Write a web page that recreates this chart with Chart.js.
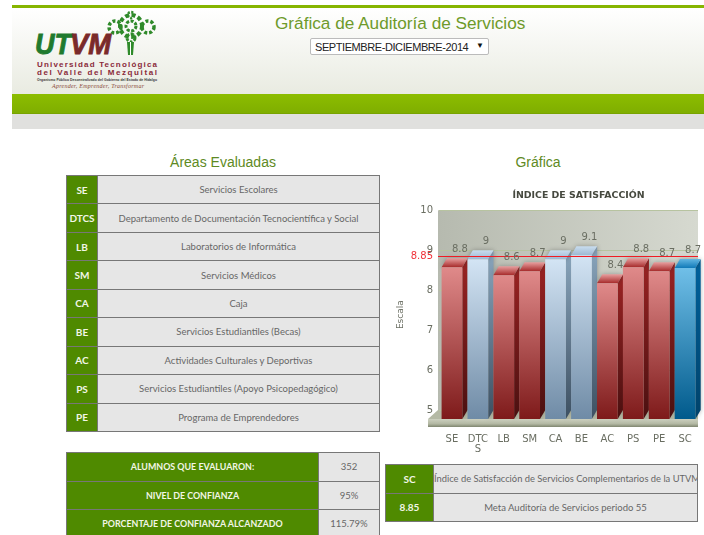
<!DOCTYPE html>
<html lang="es">
<head>
<meta charset="utf-8">
<title>Gráfica de Auditoría de Servicios</title>
<script src="https://cdn.jsdelivr.net/npm/chart.js@4"></script>
<style>
html,body{margin:0;padding:0;width:704px;height:535px;overflow:hidden;background:#fff;font-family:"Liberation Sans",Arial,sans-serif}
.abs{position:absolute}
#topline{left:12px;right:0;top:5px;height:3px;background:#86b500}
#head{left:12px;right:0;top:8px;height:86px;background:linear-gradient(#ffffff,#e9ebe1)}
#band{left:12px;right:0;top:94px;height:19px;background:linear-gradient(#8cbd00,#7fae00);border-bottom:1px solid #77a300}
#gray{left:12px;right:0;top:114px;height:15px;background:#e0e0de}
h1{margin:0;left:275px;top:13px;width:249px;text-align:center;font-weight:normal;font-size:17.2px;line-height:20px;color:#6e9a2a;white-space:nowrap}
select{left:310px;top:38px;width:179px;height:17px;font:11px "Liberation Sans",Arial,sans-serif;letter-spacing:-.42px;color:#222;background:#fff;border:1px solid #bbb;border-radius:2px;padding:0 0 0 4px;appearance:none;-webkit-appearance:none}
#arrow{left:476px;top:41px;font-size:8px;line-height:10px;color:#111}
h2{margin:0;top:153px;font-weight:normal;font-size:14px;line-height:18px;color:#5e8a24;text-align:center;white-space:nowrap}
table{position:absolute;border-collapse:collapse;table-layout:fixed;font-family:"Lato",sans-serif;font-size:9.5px}
td{border:1px solid #777;background:#e6e6e6;color:#666;text-align:center;padding:0;overflow:hidden;white-space:nowrap}
td.k{background:#4f8a00;color:#f2f6e6;font-weight:bold;font-size:10px}
#stats td.k{font-size:8.9px}
#notes tr:first-child td:last-child{font-size:9.35px}
#wrap{left:380px;top:180px;width:396px;height:280px}
</style>
</head>
<body>
<div class="abs" id="topline"></div>
<div class="abs" id="head"></div>
<div class="abs" id="band"></div>
<div class="abs" id="gray"></div>

<svg class="abs" style="left:30px;top:8px" width="135" height="86" viewBox="30 8 135 86">
  <g fill="none" stroke="#2f8a2a">
    <circle cx="131" cy="26" r="5" stroke-width="3" stroke-dasharray="3 1.5"/>
    <circle cx="131" cy="26" r="11" stroke-width="4" stroke-dasharray="4 2.5"/>
    <circle cx="115" cy="27" r="6" stroke-width="3.5" stroke-dasharray="3 2"/>
    <circle cx="148" cy="27" r="6" stroke-width="3.5" stroke-dasharray="3 2"/>
    <circle cx="131" cy="15" r="3" stroke-width="2.5" stroke-dasharray="2 1.5"/>
    <circle cx="131" cy="38" r="4" stroke-width="3" stroke-dasharray="3 1.5"/>
  </g>
  <path d="M127 42h7l-1 13h-5z" fill="#2f8a2a"/>
  <path d="M130.5 42v13" stroke="#fff" stroke-width="1"/>
  <text x="35" y="54" font-family="Liberation Sans" font-weight="bold" font-style="italic" font-size="30" fill="#1f7a2e" stroke="#1f7a2e" stroke-width=".9" textLength="36" lengthAdjust="spacingAndGlyphs">UT</text>
  <text x="70" y="54" font-family="Liberation Sans" font-weight="bold" font-style="italic" font-size="30" fill="#7a2a2a" stroke="#7a2a2a" stroke-width=".9" textLength="41" lengthAdjust="spacingAndGlyphs">VM</text>
  <g font-family="Liberation Sans" font-weight="bold" font-size="8" fill="#8a2a3a">
    <text x="37" y="66.5" textLength="120">Universidad Tecnológica</text>
    <text x="37" y="74.5" textLength="120">del Valle del Mezquital</text>
  </g>
  <text x="37" y="80.5" font-family="Liberation Sans" font-weight="bold" font-size="3.4" fill="#333" textLength="120">Organismo Público Descentralizado del Gobierno del Estado de Hidalgo</text>
  <text x="52" y="87.5" font-family="Liberation Serif" font-style="italic" font-size="6" fill="#8a4a3a" textLength="92">Aprender, Emprender, Transformar</text>
</svg>

<h1 class="abs">Gráfica de Auditoría de Servicios</h1>
<select class="abs"><option>SEPTIEMBRE-DICIEMBRE-2014</option></select>
<div class="abs" id="arrow">▼</div>
<h2 class="abs" style="left:123px;width:200px">Áreas Evaluadas</h2>
<h2 class="abs" style="left:438px;width:200px">Gráfica</h2>

<table id="areas" style="left:66px;top:175px;width:314px"></table>
<table id="stats" style="left:66px;top:452px;width:314px"></table>
<table id="notes" style="left:385px;top:464px;width:313px"></table>

<div class="abs" id="wrap"><canvas id="c" width="396" height="280"></canvas></div>

<script>
const categories = [["SE"],["DTC","S"],["LB"],["SM"],["CA"],["BE"],["AC"],["PS"],["PE"],["SC"]];
const satisfaction = [8.8, 9, 8.6, 8.7, 9, 9.1, 8.4, 8.8, 8.7, 8.78];
const valueLabels = ["8.8","9","8.6","8.7","9","9.1","8.4","8.8","8.7","8.7"];
const barGroups = ["red","blue","red","red","blue","blue","red","red","red","sc"];
const goal = 8.85;
const axisTicks = [5, 6, 7, 8, goal, 9, 10];

const areaCodes = ["SE","DTCS","LB","SM","CA","BE","AC","PS","PE"];
const areaNames = ["Servicios Escolares","Departamento de Documentación Tecnocientífica y Social","Laboratorios de Informática","Servicios Médicos","Caja","Servicios Estudiantiles (Becas)","Actividades Culturales y Deportivas","Servicios Estudiantiles (Apoyo Psicopedagógico)","Programa de Emprendedores"];
const statNames = ["ALUMNOS QUE EVALUARON:","NIVEL DE CONFIANZA","PORCENTAJE DE CONFIANZA ALCANZADO"];
const statValues = ["352","95%","115.79%"];
const noteCodes = ["SC","8.85"];
const noteNames = ["Índice de Satisfacción de Servicios Complementarios de la UTVM","Meta Auditoría de Servicios periodo 55"];

function fill(id, keys, vals, kw, rowH){
  const t = document.getElementById(id);
  t.innerHTML = '<colgroup><col style="width:'+kw+'px"><col></colgroup>' + keys.map((k,i)=>
    '<tr style="height:'+rowH+'px"><td class="k">'+k+'</td><td>'+vals[i]+'</td></tr>').join('');
}
fill("areas", areaCodes, areaNames, 31, 28.44);
fill("stats", statNames, statValues, 252, 28.5);
fill("notes", noteCodes, noteNames, 48, 28.5);

const palette = {
  red:  {front:["#e08a8a","#7e1a1a"], side:["#962222","#4a1010"], top:["#e9a0a0","#a62a2a"]},
  blue: {front:["#d3e4f4","#6f8ba6"], side:["#86a1b8","#3d5062"], top:["#c9ddef","#9db8d2"]},
  sc:   {front:["#70bfe8","#005a8c"], side:["#00609a","#00426a"], top:["#62b6e2","#1079b8"]}
};

function vGrad(ctx, y0, y1, cols){
  if (!Number.isFinite(y0) || !Number.isFinite(y1)) return cols[0];
  const g = ctx.createLinearGradient(0, y0, 0, y1);
  g.addColorStop(0, cols[0]); g.addColorStop(1, cols[1]);
  return g;
}

const stage = {
  id: "stage",
  afterLayout(chart){
    const t = chart.titleBlock;
    const shift = 32;
    t.left += shift; t.right += shift;
  },
  beforeDraw(chart){
    const {ctx, chartArea:a, scales} = chart;
    const back = scales.wall.getPixelForValue(5), front = scales.y.getPixelForValue(5);
    const left = a.left - 1, lipLeft = left - 10;
    ctx.save();
    const w = ctx.createLinearGradient(left, 0, a.right, 0);
    w.addColorStop(0, "#b6baaf"); w.addColorStop(1, "#d6d9d0");
    ctx.fillStyle = w;
    ctx.fillRect(left, a.top, a.right - left, back - a.top);
    ctx.fillStyle = "#b4b9a4";
    ctx.beginPath();
    ctx.moveTo(left, back); ctx.lineTo(a.right, back);
    ctx.lineTo(a.right, front); ctx.lineTo(lipLeft, front); ctx.closePath(); ctx.fill();
    const lip = ctx.createLinearGradient(0, front, 0, front + 8);
    lip.addColorStop(0, "#ccd0bf"); lip.addColorStop(.6, "#b3b8a3"); lip.addColorStop(1, "#7f866f");
    ctx.fillStyle = lip;
    ctx.fillRect(lipLeft, front, a.right - lipLeft, 8);
    ctx.restore();
  },
  beforeDatasetsDraw(chart){
    const {ctx, scales} = chart;
    const base = scales.y.getPixelForValue(5);
    const depth = base - scales.wall.getPixelForValue(5);
    const dx = 5.3;
    ctx.save();
    chart.getDatasetMeta(0).data.forEach((b,i)=>{
      const p = palette[barGroups[i]];
      const l = b.x - b.width/2, r = b.x + b.width/2;
      ctx.shadowColor = "rgba(40,40,40,.35)"; ctx.shadowBlur = 5;
      ctx.fillStyle = vGrad(ctx, b.y, base, p.side);
      ctx.beginPath();
      ctx.moveTo(r, b.y); ctx.lineTo(r + dx, b.y - depth);
      ctx.lineTo(r + dx, base - depth); ctx.lineTo(r, base); ctx.closePath(); ctx.fill();
      ctx.fillStyle = vGrad(ctx, b.y - depth, b.y, p.top);
      ctx.beginPath();
      ctx.moveTo(l, b.y); ctx.lineTo(l + dx, b.y - depth);
      ctx.lineTo(r + dx, b.y - depth); ctx.lineTo(r, b.y); ctx.closePath(); ctx.fill();
      ctx.shadowBlur = 0;
    });
    ctx.restore();
  },
  afterDatasetsDraw(chart){
    const {ctx, chartArea:a, scales} = chart;
    const y = Math.round(scales.wall.getPixelForValue(goal)) + .5;
    ctx.save();
    ctx.strokeStyle = "#f01c24"; ctx.lineWidth = 1;
    ctx.beginPath(); ctx.moveTo(a.left - 1, y); ctx.lineTo(a.right, y); ctx.stroke();
    ctx.fillStyle = "#6a6e62";
    ctx.font = '10px "DejaVu Sans"';
    ctx.textAlign = "center"; ctx.textBaseline = "middle";
    chart.getDatasetMeta(0).data.forEach((b,i)=> ctx.fillText(valueLabels[i], b.x + 8, b.y - 18));
    ctx.restore();
  }
};

new Chart(document.getElementById("c"), {
  type: "bar",
  data: {
    labels: categories,
    datasets: [{
      label: "Índice de satisfacción",
      data: satisfaction,
      yAxisID: "y",
      barPercentage: .8,
      categoryPercentage: 1,
      borderWidth: 0,
      backgroundColor(c){
        const s = c.chart.scales.y;
        const p = palette[barGroups[c.dataIndex]];
        if (!s || c.raw === undefined) return p ? p.front[0] : "#999";
        return vGrad(c.chart.ctx, s.getPixelForValue(c.raw), s.getPixelForValue(5), p.front);
      }
    }]
  },
  options: {
    responsive: false,
    animation: false,
    layout: {padding: {left: 15, right: 78, top: 0, bottom: 0}},
    plugins: {
      legend: {display: false},
      tooltip: {enabled: false},
      title: {
        display: true,
        text: "ÍNDICE DE SATISFACCIÓN",
        color: "#46493f",
        font: {family: "DejaVu Sans", size: 9.4, weight: "bold"},
        padding: {top: 10, bottom: 9}
      }
    },
    scales: {
      x: {
        grid: {display: false, drawTicks: false},
        border: {display: false},
        ticks: {
          autoSkip: false, maxRotation: 0, minRotation: 0, padding: 16,
          color: "#6a6e62",
          font: {family: "DejaVu Sans", size: 10, lineHeight: .97}
        },
        afterFit(s){ s.height = 41; }
      },
      y: {display: false, min: 5, max: 10.225},
      wall: {
        position: "left",
        min: 4.775,
        max: 10,
        grid: {
          drawTicks: false,
          color(c){ return c.tick && c.tick.value === goal ? "rgba(0,0,0,0)" : "#b7c3a0"; }
        },
        border: {display: false},
        afterBuildTicks(s){ s.ticks = axisTicks.map(v => ({value: v})); },
        ticks: {
          autoSkip: false, padding: 6,
          color(c){ return c.tick && c.tick.value === goal ? "#f03038" : "#6a6e62"; },
          font: {family: "DejaVu Sans", size: 10},
          callback(v){ return String(v); }
        },
        title: {
          display: true, text: "Escala", color: "#6a6e62", padding: 0,
          font: {family: "DejaVu Sans", size: 9}
        },
        afterFit(s){ s.width = 44; }
      }
    }
  },
  plugins: [stage]
});
</script>
</body>
</html>
